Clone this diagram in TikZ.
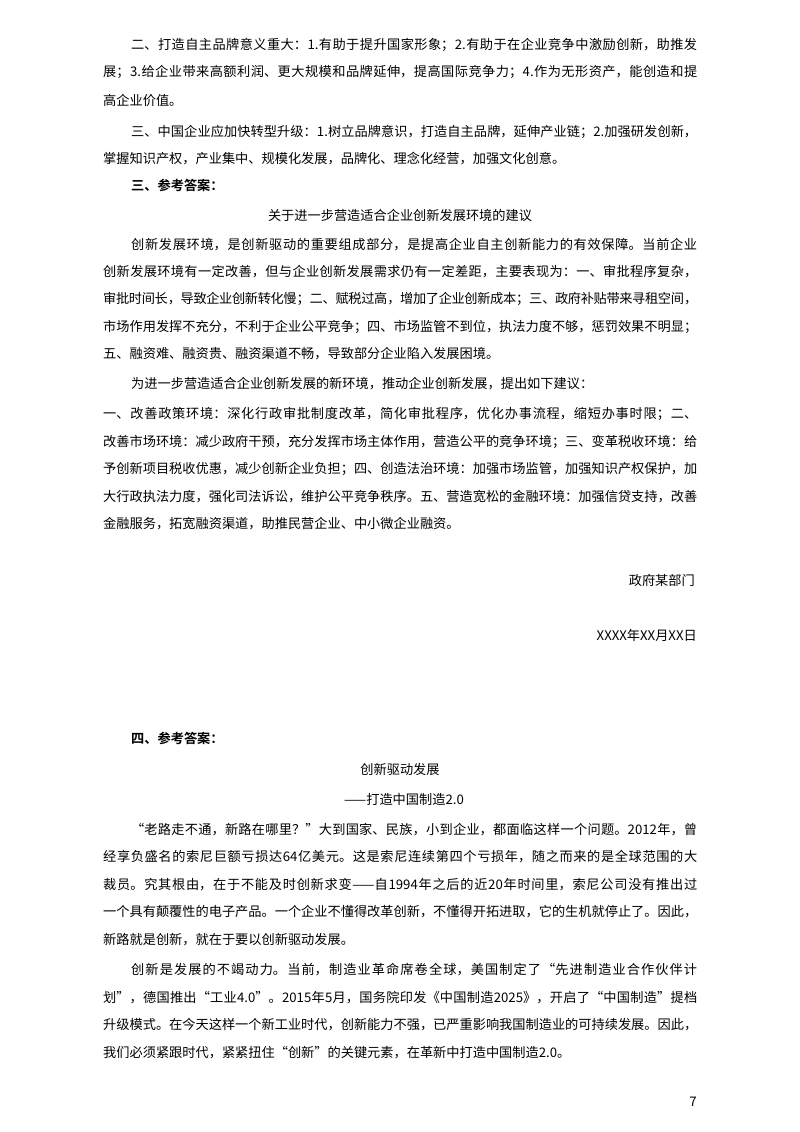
\documentclass[tikz,border=0pt]{standalone}
\usepackage{fontspec}
\setmainfont{Noto Sans CJK SC}[BoldFont={Noto Sans CJK SC Bold}]
\XeTeXlinebreaklocale "zh"
\XeTeXlinebreakskip=0pt plus 3pt minus 0.6pt
\newcommand{\fl}[3]{\node[txt] at (#1,#2) {\parbox[b]{\dimexpr697pt-#1pt\relax}{\parfillskip=0pt\parindent=0pt\tolerance=10000\hbadness=10000 #3}};}
\newcommand{\pl}[3]{\node[txt] at (#1,#2) {#3};}
\begin{document}
\begin{tikzpicture}[x=1pt,y=-1pt,txt/.style={anchor=base west,inner sep=0pt,font=\fontsize{13.2}{16}\selectfont}]
\useasboundingbox (0,0) rectangle (800,1132);
\fl{131}{49}{二、打造自主品牌意义重大：1.有助于提升国家形象；2.有助于在企业竞争中激励创新，助推发}
\fl{103}{77}{展；3.给企业带来高额利润、更大规模和品牌延伸，提高国际竞争力；4.作为无形资产，能创造和提}
\pl{103}{105}{高企业价值。}
\fl{131}{136}{三、中国企业应加快转型升级：1.树立品牌意识，打造自主品牌，延伸产业链；2.加强研发创新，}
\pl{103}{163}{掌握知识产权，产业集中、规模化发展，品牌化、理念化经营，加强文化创意。}
\pl{131}{190}{\bfseries 三、参考答案：}
\node[txt,anchor=base] at (400,220) {关于进一步营造适合企业创新发展环境的建议};
\fl{131}{249}{创新发展环境，是创新驱动的重要组成部分，是提高企业自主创新能力的有效保障。当前企业}
\fl{103}{276}{创新发展环境有一定改善，但与企业创新发展需求仍有一定差距，主要表现为：一、审批程序复杂，}
\fl{103}{303}{审批时间长，导致企业创新转化慢；二、赋税过高，增加了企业创新成本；三、政府补贴带来寻租空间，}
\fl{103}{331}{市场作用发挥不充分，不利于企业公平竞争；四、市场监管不到位，执法力度不够，惩罚效果不明显；}
\pl{103}{358}{五、融资难、融资贵、融资渠道不畅，导致部分企业陷入发展困境。}
\pl{131}{388}{为进一步营造适合企业创新发展的新环境，推动企业创新发展，提出如下建议：}
\fl{103}{418}{一、改善政策环境：深化行政审批制度改革，简化审批程序，优化办事流程，缩短办事时限；二、}
\fl{103}{446}{改善市场环境：减少政府干预，充分发挥市场主体作用，营造公平的竞争环境；三、变革税收环境：给}
\fl{103}{473}{予创新项目税收优惠，减少创新企业负担；四、创造法治环境：加强市场监管，加强知识产权保护，加}
\fl{103}{501}{大行政执法力度，强化司法诉讼，维护公平竞争秩序。五、营造宽松的金融环境：加强信贷支持，改善}
\pl{103}{528}{金融服务，拓宽融资渠道，助推民营企业、中小微企业融资。}
\node[txt,anchor=base east] at (695,585) {政府某部门};
\node[txt,anchor=base east] at (697,640) {XXXX年XX月XX日};
\pl{131}{743}{\bfseries 四、参考答案：}
\node[txt,anchor=base] at (400,774) {创新驱动发展};
\node[txt,anchor=base] at (404,804) {——打造中国制造2.0};
\fl{131}{834}{“老路走不通，新路在哪里？”大到国家、民族，小到企业，都面临这样一个问题。2012年，曾}
\fl{103}{861}{经享负盛名的索尼巨额亏损达64亿美元。这是索尼连续第四个亏损年，随之而来的是全球范围的大}
\fl{103}{889}{裁员。究其根由，在于不能及时创新求变——自1994年之后的近20年时间里，索尼公司没有推出过}
\fl{103}{916}{一个具有颠覆性的电子产品。一个企业不懂得改革创新，不懂得开拓进取，它的生机就停止了。因此，}
\pl{103}{944}{新路就是创新，就在于要以创新驱动发展。}
\fl{131}{974}{创新是发展的不竭动力。当前，制造业革命席卷全球，美国制定了“先进制造业合作伙伴计}
\fl{103}{1002}{划”，德国推出“工业4.0”。2015年5月，国务院印发《中国制造2025》，开启了“中国制造”提档}
\fl{103}{1029}{升级模式。在今天这样一个新工业时代，创新能力不强，已严重影响我国制造业的可持续发展。因此，}
\pl{103}{1057}{我们必须紧跟时代，紧紧扭住“创新”的关键元素，在革新中打造中国制造2.0。}
\node[txt,anchor=base east] at (697,1106) {7};
\end{tikzpicture}
\end{document}
